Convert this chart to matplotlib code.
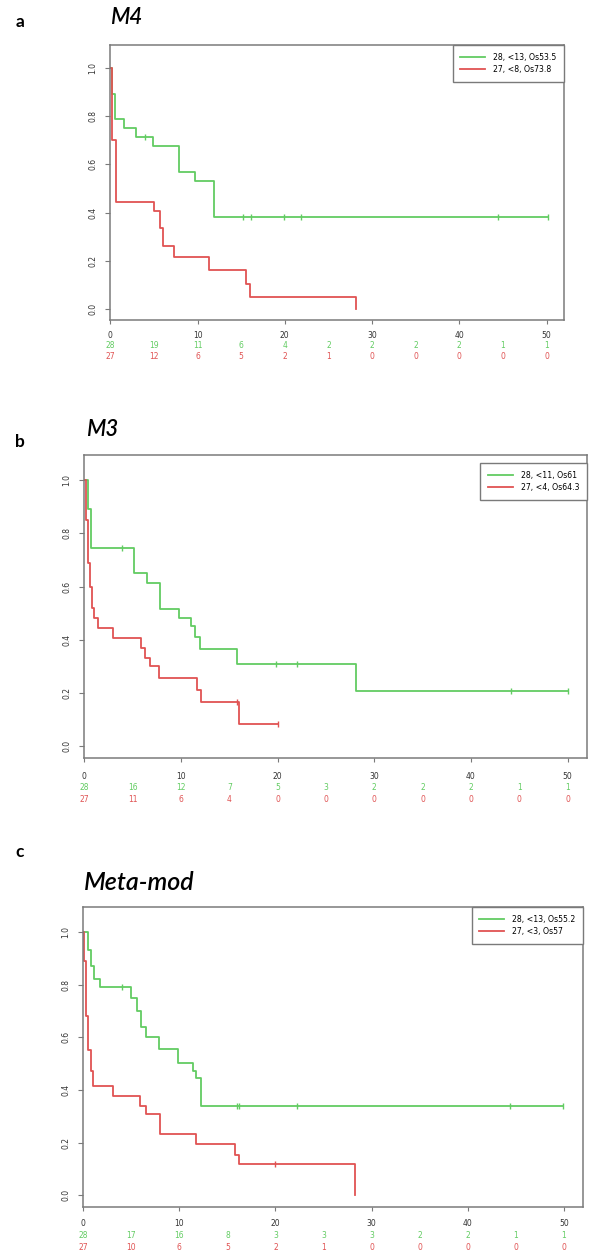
"""Three Kaplan-Meier panels (M4, M3, Meta-mod) with number-at-risk rows."""

import numpy as np
import matplotlib

matplotlib.use("Agg")
import matplotlib.pyplot as plt

W, H = 611, 1254

GREEN = "#62cc62"
RED = "#e05353"
GREY = "#7a7a7a"

X_TICKS = [0, 10, 20, 30, 40, 50]
Y_TICKS = [0.0, 0.2, 0.4, 0.6, 0.8, 1.0]
RISK_TIMES = [0, 5, 10, 15, 20, 25, 30, 35, 40, 45, 50]

# --- a: M4 ---
M4_GREEN_T = [0, 0.2, 0.6, 1.6, 2.9, 4.9, 7.9, 9.7, 11.9]
M4_GREEN_S = [1.0, 0.89, 0.79, 0.75, 0.715, 0.675, 0.57, 0.53, 0.38]
M4_GREEN_END = 50.2
M4_GREEN_CENS = [4.0, 15.2, 16.1, 19.9, 21.9, 44.4, 50.2]
M4_RED_T = [0, 0.25, 0.7, 5.0, 5.7, 6.1, 7.3, 11.3, 15.5, 16.0, 28.2]
M4_RED_S = [1.0, 0.70, 0.445, 0.405, 0.335, 0.26, 0.215, 0.163, 0.105, 0.052, 0.0]
M4_RED_END = 28.2
M4_RED_CENS = []
M4_LABELS = ["28, <13, Os53.5", "27, <8, Os73.8"]
M4_RISK_GREEN = [28, 19, 11, 6, 4, 2, 2, 2, 2, 1, 1]
M4_RISK_RED = [27, 12, 6, 5, 2, 1, 0, 0, 0, 0, 0]

# --- b: M3 ---
M3_GREEN_T = [0, 0.4, 0.7, 5.1, 6.5, 7.8, 9.8, 11.0, 11.5, 12.0, 15.8, 28.1]
M3_GREEN_S = [1.0, 0.89, 0.746, 0.652, 0.615, 0.515, 0.48, 0.45, 0.41, 0.365, 0.309, 0.206]
M3_GREEN_END = 50.0
M3_GREEN_CENS = [3.9, 19.8, 22.0, 44.1, 50.0]
M3_RED_T = [0, 0.2, 0.4, 0.6, 0.8, 1.0, 1.4, 3.0, 5.9, 6.3, 6.8, 7.7, 11.7, 12.1, 16.0]
M3_RED_S = [1.0, 0.85, 0.69, 0.60, 0.52, 0.48, 0.444, 0.406, 0.369, 0.331, 0.30,
            0.256, 0.2125, 0.165, 0.084]
M3_RED_END = 20.0
M3_RED_CENS = [15.8, 20.0]
M3_LABELS = ["28, <11, Os61", "27, <4, Os64.3"]
M3_RISK_GREEN = [28, 16, 12, 7, 5, 3, 2, 2, 2, 1, 1]
M3_RISK_RED = [27, 11, 6, 4, 0, 0, 0, 0, 0, 0, 0]

# --- c: Meta-mod ---
META_GREEN_T = [0, 0.5, 0.8, 1.15, 1.75, 5.0, 5.55, 6.0, 6.5, 7.9, 9.9, 11.4, 11.75, 12.2]
META_GREEN_S = [1.0, 0.93, 0.87, 0.82, 0.79, 0.75, 0.70, 0.64, 0.60, 0.556, 0.503,
                0.47, 0.447, 0.34]
META_GREEN_END = 49.9
META_GREEN_CENS = [4.0, 16.0, 16.2, 22.2, 44.4, 49.9]
META_RED_T = [0, 0.1, 0.25, 0.5, 0.8, 1.06, 3.05, 5.9, 6.5, 8.0, 11.75, 15.8, 16.2, 28.3]
META_RED_S = [1.0, 0.89, 0.68, 0.55, 0.47, 0.415, 0.377, 0.34, 0.308, 0.233, 0.195,
              0.151, 0.12, 0.0]
META_RED_END = 28.3
META_RED_CENS = [19.9]
META_LABELS = ["28, <13, Os55.2", "27, <3, Os57"]
META_RISK_GREEN = [28, 17, 16, 8, 3, 3, 3, 2, 2, 1, 1]
META_RISK_RED = [27, 10, 6, 5, 2, 1, 0, 0, 0, 0, 0]


def km_curve(ax, t, s, end, cens, color, label):
    tt = list(t) + [end]
    ss = list(s) + [s[-1]]
    ax.step(tt, ss, where="post", color=color, lw=1.3, label=label)
    if cens:
        idx = np.searchsorted(np.asarray(t), np.asarray(cens), side="right") - 1
        ax.plot(cens, np.asarray(s)[idx], ls="none", marker="|", ms=4, mew=1.0,
                color=color)


def panel(fig, box, letter, letter_y, title, title_xy, title_size, green, red,
          labels, risk_green, risk_red, offs, leg_top):
    left, top, right, bottom = box
    ax = fig.add_axes([left / W, 1 - bottom / H, (right - left) / W, (bottom - top) / H])
    km_curve(ax, *green, GREEN, labels[0])
    km_curve(ax, *red, RED, labels[1])
    ax.set_xlim(-0.03, 52)
    ax.set_ylim(-0.045, 1.095)
    ax.set_xticks(X_TICKS)
    ax.set_yticks(Y_TICKS)
    ax.set_yticklabels([f"{v:.1f}" for v in Y_TICKS], rotation=90, va="center")
    lab_off, g_off, r_off = offs
    ax.tick_params(axis="x", length=3, width=0.8, color=GREY, labelsize=5.5,
                   labelcolor="#333333", pad=lab_off * 0.72 - 5)
    ax.tick_params(axis="y", length=3.5, width=0.8, color=GREY, labelsize=5.5,
                   labelcolor="#333333", pad=5.5)
    for sp in ax.spines.values():
        sp.set_color(GREY)
        sp.set_linewidth(1.1)

    for x, g, r in zip(RISK_TIMES, risk_green, risk_red):
        ax.annotate(str(g), (x, 0), xycoords=("data", "axes fraction"),
                    xytext=(0, -g_off * 0.72), textcoords="offset points",
                    ha="center", va="center", fontsize=5.5, color=GREEN)
        ax.annotate(str(r), (x, 0), xycoords=("data", "axes fraction"),
                    xytext=(0, -r_off * 0.72), textcoords="offset points",
                    ha="center", va="center", fontsize=5.5, color=RED)

    leg = ax.legend(loc="upper right", bbox_to_anchor=(1.0, leg_top), borderaxespad=0,
                    fontsize=5.6, handlelength=3.2, handletextpad=1.0, borderpad=1.0,
                    labelspacing=0.4, fancybox=False, framealpha=1)
    leg.get_frame().set_edgecolor(GREY)
    leg.get_frame().set_linewidth(1.0)

    fig.text(20 / W, 1 - letter_y / H, letter, fontsize=12.5, fontweight="bold",
             ha="center", va="center", family="Lato")
    fig.text(title_xy[0] / W, 1 - title_xy[1] / H, title, fontsize=title_size,
             style="italic", fontweight="semibold", ha="left", va="center", family="Lato")
    return ax


def main() -> None:
    fig = plt.figure(figsize=(W / 100, H / 100), dpi=100)

    panel(fig, (110, 45, 564, 320), "a", 22, "M4", (110, 17), 16,
          (M4_GREEN_T, M4_GREEN_S, M4_GREEN_END, M4_GREEN_CENS),
          (M4_RED_T, M4_RED_S, M4_RED_END, M4_RED_CENS),
          M4_LABELS, M4_RISK_GREEN, M4_RISK_RED, (14, 25.5, 36.7), 1.0)

    panel(fig, (84, 455, 587, 758), "b", 442, "M3", (86, 430), 16,
          (M3_GREEN_T, M3_GREEN_S, M3_GREEN_END, M3_GREEN_CENS),
          (M3_RED_T, M3_RED_S, M3_RED_END, M3_RED_CENS),
          M3_LABELS, M3_RISK_GREEN, M3_RISK_RED, (17, 29, 41), 0.974)

    panel(fig, (83, 907, 583, 1207), "c", 852, "Meta-mod", (84, 882), 18,
          (META_GREEN_T, META_GREEN_S, META_GREEN_END, META_GREEN_CENS),
          (META_RED_T, META_RED_S, META_RED_END, META_RED_CENS),
          META_LABELS, META_RISK_GREEN, META_RISK_RED, (15, 28, 40), 1.0)

    fig.savefig("out.png", dpi=100)


if __name__ == "__main__":
    main()
